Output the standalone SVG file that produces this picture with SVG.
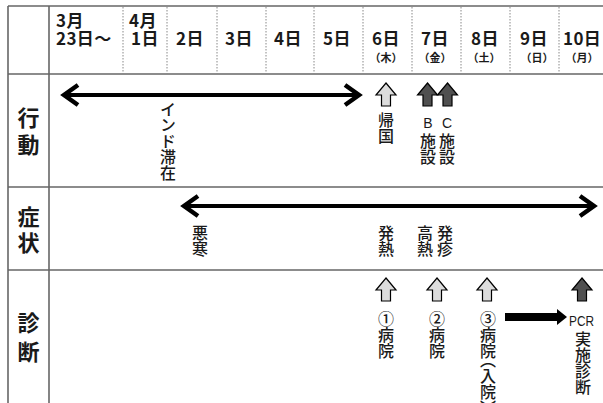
<svg xmlns="http://www.w3.org/2000/svg" width="603" height="403" viewBox="0 0 603 403">
<style>
.grid{stroke:#666;stroke-width:1.6;fill:none}
.dot{stroke:#888;stroke-width:1;stroke-dasharray:1.5 1.5;fill:none}
.hd{font-family:"Noto Sans CJK JP","Noto Sans",sans-serif;font-weight:700;font-size:17px;letter-spacing:0.4px;fill:#1a1a1a}
.wd{font-family:"Noto Sans CJK JP","Noto Sans",sans-serif;font-weight:700;font-size:11px;fill:#1a1a1a;text-anchor:middle}
.rl{font-family:"Noto Sans CJK JP","Noto Sans",sans-serif;font-weight:700;font-size:22px;fill:#1a1a1a;text-anchor:middle}
.vt{font-family:"Noto Sans CJK JP","Noto Sans",sans-serif;font-weight:500;font-size:16px;fill:#1a1a1a;writing-mode:vertical-rl}
.ht{font-family:"Liberation Sans","Noto Sans CJK JP",sans-serif;font-size:14px;fill:#1a1a1a;text-anchor:middle}
.dbl{stroke:#000;stroke-width:4;fill:none}
.upl{fill:#dcdcdc;stroke:#000;stroke-width:1.2;stroke-linejoin:miter}
.upd{fill:#505050;stroke:#000;stroke-width:1.2;stroke-linejoin:miter}
</style>
<defs>
<marker id="chev" markerUnits="userSpaceOnUse" viewBox="-20 -14 26 28" refX="0" refY="0" markerWidth="26" markerHeight="28" orient="auto-start-reverse">
<path d="M -14,-10 L 0,0 L -14,10" fill="none" stroke="#000" stroke-width="4.5" stroke-linejoin="miter" stroke-miterlimit="6"/>
</marker>
<path id="up" d="M 0,0 L 10,12 L 4.5,12 L 4.5,23 L -4.5,23 L -4.5,12 L -10,12 Z"/>
</defs>

<g id="grid">
<line class="grid" x1="8" y1="6" x2="603" y2="6"/>
<line class="grid" x1="8" y1="74" x2="603" y2="74"/>
<line class="grid" x1="8" y1="187" x2="603" y2="187"/>
<line class="grid" x1="8" y1="270" x2="603" y2="270"/>
<line class="grid" x1="8" y1="6" x2="8" y2="403"/>
<line class="grid" x1="49" y1="6" x2="49" y2="403"/>
<line class="dot" x1="123" y1="7" x2="123" y2="74"/>
<line class="dot" x1="167" y1="7" x2="167" y2="74"/>
<line class="dot" x1="217" y1="7" x2="217" y2="74"/>
<line class="dot" x1="266" y1="7" x2="266" y2="74"/>
<line class="dot" x1="314" y1="7" x2="314" y2="74"/>
<line class="dot" x1="363" y1="7" x2="363" y2="74"/>
<line class="dot" x1="412" y1="7" x2="412" y2="74"/>
<line class="dot" x1="461" y1="7" x2="461" y2="74"/>
<line class="dot" x1="510" y1="7" x2="510" y2="74"/>
<line class="dot" x1="559" y1="7" x2="559" y2="74"/>
</g>

<g id="header">
<text class="hd" x="56" y="27">3月</text>
<text class="hd" x="56" y="45">23日～</text>
<text class="hd" x="129" y="27">4月</text>
<text class="hd" x="131" y="45">1日</text>
<text class="hd" x="176" y="45">2日</text>
<text class="hd" x="225" y="45">3日</text>
<text class="hd" x="274" y="45">4日</text>
<text class="hd" x="323" y="45">5日</text>
<text class="hd" x="372" y="45">6日</text>
<text class="hd" x="421" y="45">7日</text>
<text class="hd" x="471" y="45">8日</text>
<text class="hd" x="520" y="45">9日</text>
<text class="hd" x="563" y="45">10日</text>
<text class="wd" x="386" y="62">（木）</text>
<text class="wd" x="435" y="62">（金）</text>
<text class="wd" x="484" y="62">（土）</text>
<text class="wd" x="537" y="62">（日）</text>
<text class="wd" x="582" y="62">（月）</text>
</g>

<g id="row-labels">
<text class="rl" x="28.5" y="126">行</text>
<text class="rl" x="28.5" y="153">動</text>
<text class="rl" x="28.5" y="225">症</text>
<text class="rl" x="28.5" y="251">状</text>
<text class="rl" x="28.5" y="331">診</text>
<text class="rl" x="28.5" y="360">断</text>
</g>

<g id="connectors">
<line class="dbl" x1="64" y1="95" x2="359" y2="95" marker-start="url(#chev)" marker-end="url(#chev)"/>
<line class="dbl" x1="184" y1="206" x2="594" y2="206" marker-start="url(#chev)" marker-end="url(#chev)"/>
<path d="M505,313 L557,313 L557,309 L567,317 L557,325 L557,321 L505,321 Z" fill="#000"/>
</g>

<g id="node-india">
<text class="vt" x="168" y="101">インド滞在</text>
</g>
<g id="node-kikoku">
<use href="#up" class="upl" x="386" y="83"/>
<text class="vt" x="386" y="112">帰国</text>
</g>
<g id="node-b">
<use href="#up" class="upd" x="427.5" y="83"/>
<text class="ht" x="428" y="128">B</text>
<text class="vt" x="428" y="133">施設</text>
</g>
<g id="node-c">
<use href="#up" class="upd" x="447.5" y="83"/>
<text class="ht" x="447" y="128">C</text>
<text class="vt" x="447" y="133">施設</text>
</g>
<g id="node-okan">
<text class="vt" x="200" y="225">悪寒</text>
</g>
<g id="node-hatsunetsu">
<text class="vt" x="386" y="225">発熱</text>
</g>
<g id="node-kounetsu">
<text class="vt" x="425" y="225">高熱</text>
</g>
<g id="node-hosshin">
<text class="vt" x="445" y="225">発疹</text>
</g>
<g id="node-hosp1">
<use href="#up" class="upl" x="386" y="278"/>
<text class="vt" x="386" y="311">①病院</text>
</g>
<g id="node-hosp2">
<use href="#up" class="upl" x="437" y="278"/>
<text class="vt" x="437" y="311">②病院</text>
</g>
<g id="node-hosp3">
<use href="#up" class="upl" x="487" y="278"/>
<text class="vt" x="488" y="311">③病<tspan style="letter-spacing:-7px">院</tspan>（入院）</text>
</g>
<g id="node-pcr">
<use href="#up" class="upd" x="582" y="278"/>
<text x="581.5" y="326" textLength="25" lengthAdjust="spacingAndGlyphs" style="font-family:'Liberation Sans',sans-serif;font-size:15px;fill:#1a1a1a;text-anchor:middle">PCR</text>
<text class="vt" x="583" y="331">実施診断</text>
</g>
</svg>
